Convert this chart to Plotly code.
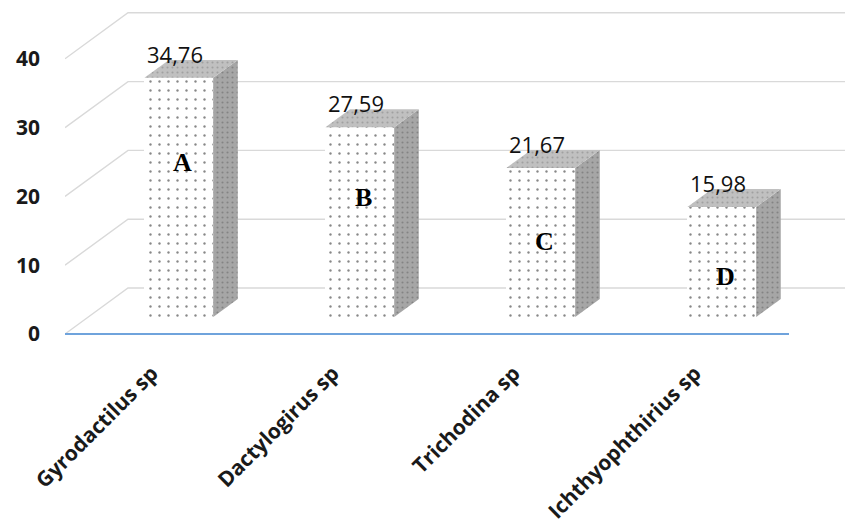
import plotly.graph_objects as go

# ---- data -------------------------------------------------------------
categories = ["Gyrodactilus sp", "Dactylogirus sp", "Trichodina sp", "Ichthyophthirius sp"]
values = [34.76, 27.59, 21.67, 15.98]
groups = ["A", "B", "C", "D"]
y_ticks = [0, 10, 20, 30, 40]

# height (value units) where each group letter sits inside its bar
group_label_y = [25.0, 19.8, 13.4, 8.3]

# ---- pseudo-3D geometry (axis units) ----------------------------------
PX_X = 181.0          # pixels per category
PX_Y = 6.88           # pixels per value unit
DEPTH_X = 63 / PX_X   # floor depth, horizontal component
DEPTH_Y = 46 / PX_Y   # floor depth, vertical component
BAR_FRONT = 0.37      # bar front plane, fraction of floor depth
BAR_DEPTH = 0.39      # bar thickness, fraction of floor depth
BAR_W = 0.38          # bar width, category units

X_MIN = -0.5
X_MAX = X_MIN + 780 / PX_X
Y_MIN = -3 / PX_Y     # a little room below zero so the floor edge is not clipped
Y_MAX = 329 / PX_Y

bar_x = [i + BAR_FRONT * DEPTH_X for i in range(len(categories))]
base = BAR_FRONT * DEPTH_Y
ddx = BAR_DEPTH * DEPTH_X
ddy = BAR_DEPTH * DEPTH_Y

fig = go.Figure()

# front faces: dotted white bars
fig.add_trace(go.Bar(
    x=bar_x, y=values, base=base, width=BAR_W,
    marker=dict(
        color="white",
        line=dict(width=0),
        pattern=dict(shape=".", fgcolor="#111111", bgcolor="white",
                     size=9, solidity=0.055),
    ),
    hoverinfo="skip",
))

# side and top faces
for xc, v in zip(bar_x, values):
    xl, xr = xc - BAR_W / 2, xc + BAR_W / 2
    top = base + v
    fig.add_trace(go.Scatter(
        x=[xr, xr + ddx, xr + ddx, xr, xr],
        y=[base, base + ddy, top + ddy, top, base],
        mode="lines", fill="toself", line=dict(width=0),
        fillcolor="#a4a4a4",
        fillpattern=dict(shape=".", fgcolor="#606060", bgcolor="#a6a6a6",
                         size=5, solidity=0.14),
        hoverinfo="skip",
    ))
    fig.add_trace(go.Scatter(
        x=[xl, xr, xr + ddx, xl + ddx, xl],
        y=[top, top, top + ddy, top + ddy, top],
        mode="lines", fill="toself", line=dict(width=0),
        fillcolor="#bfbfbf",
        fillpattern=dict(shape=".", fgcolor="#808080", bgcolor="#c0c0c0",
                         size=5, solidity=0.14),
        hoverinfo="skip",
    ))

# back-wall gridlines with their oblique floor-side segment
shapes = []
for v in y_ticks:
    shapes.append(dict(
        type="path", xref="x", yref="y", layer="below",
        path=f"M {X_MIN},{v} L {X_MIN + DEPTH_X},{v + DEPTH_Y} L {X_MAX + 0.1},{v + DEPTH_Y}",
        line=dict(color="#d9d9d9", width=1.4),
    ))
# front edge of the floor
shapes.append(dict(
    type="line", xref="x", yref="y", layer="above",
    x0=X_MIN, x1=len(categories) - 0.5, y0=0, y1=0,
    line=dict(color="#6fa3dc", width=2),
))

annotations = []
for xc, v, g, gy in zip(bar_x, values, groups, group_label_y):
    annotations.append(dict(
        x=xc, y=base + v + ddy, xref="x", yref="y",
        text=f"{v:.2f}".replace(".", ","), showarrow=False,
        yanchor="middle", yshift=6, xshift=-4,
        font=dict(family="Open Sans", size=22, color="#111111"),
    ))
    annotations.append(dict(
        x=xc, y=gy, xref="x", yref="y", text=f"<b>{g}</b>",
        showarrow=False, xshift=4,
        font=dict(family="Liberation Serif", size=26, color="#000000"),
    ))

fig.update_layout(
    width=845, height=523,
    margin=dict(l=65, r=0, t=5, b=186),
    paper_bgcolor="white", plot_bgcolor="white",
    showlegend=False, bargap=0,
    shapes=shapes, annotations=annotations,
    xaxis=dict(
        range=[X_MIN, X_MAX], tickvals=[i - 0.02 for i in range(len(categories))],
        ticktext=categories, tickangle=-45,
        showgrid=False, zeroline=False, showline=False, ticks="",
        ticklabelstandoff=19,
        tickfont=dict(family="Open Sans", size=21, color="#1a1a1a", weight="bold"),
    ),
    yaxis=dict(
        range=[Y_MIN, Y_MAX], tickvals=y_ticks,
        showgrid=False, zeroline=False, showline=False, ticks="",
        ticklabelstandoff=24,
        tickfont=dict(family="Open Sans", size=21, color="#1a1a1a", weight="bold"),
    ),
)

fig.write_html("out.html")
